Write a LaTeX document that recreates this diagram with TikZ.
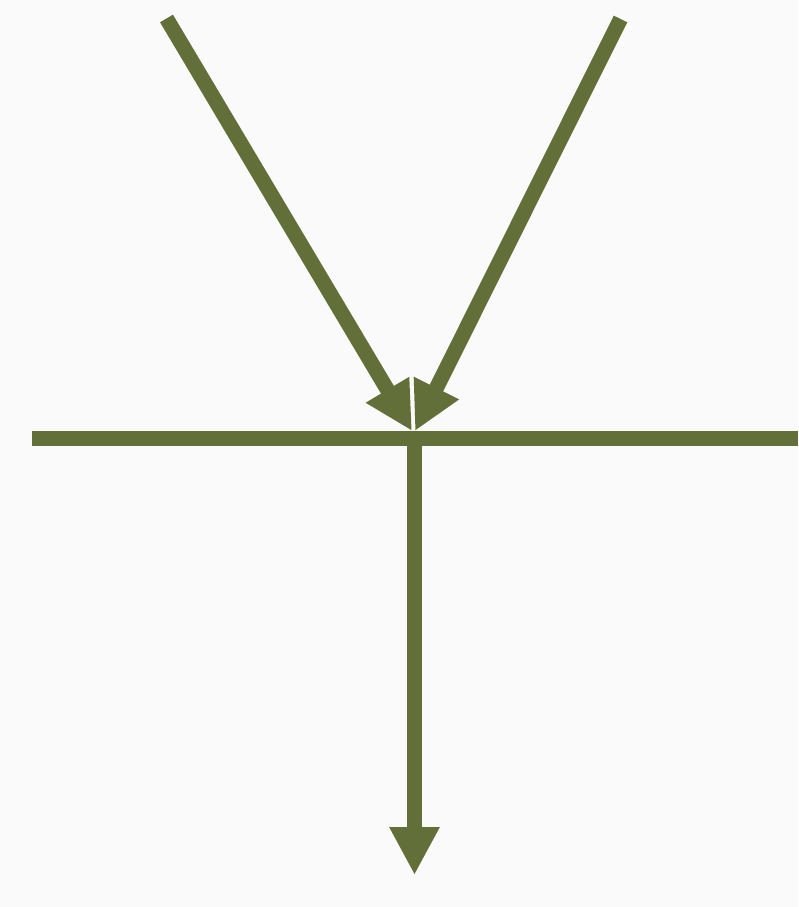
\documentclass[tikz,border=0pt]{standalone}
\usetikzlibrary{arrows.meta}
\definecolor{stemgreen}{RGB}{99,111,56}
\definecolor{backdrop}{RGB}{250,250,250}

\begin{document}
\begin{tikzpicture}[x=1pt,y=-1pt,
  stroke/.style={draw=stemgreen,line width=15pt},
  head/.style={-{Triangle[length=48pt,width=47pt]}}]
 \fill[backdrop] (0,0) rectangle (798,907);
 \useasboundingbox (0,0) rectangle (798,907);
 % end points
 \coordinate (leftTop) at (166.5,18.5);
 \coordinate (rightTop) at (620.5,19);
 \coordinate (leftTip) at (412,431);
 \coordinate (rightTip) at (415,431);
 \coordinate (barWest) at (32,438);
 \coordinate (barEast) at (798,438);
 \coordinate (stemTop) at (414.5,446);
 \coordinate (stemTip) at (414.5,875);
 % bar and stem
 \draw[stroke] (barWest) -- (barEast);
 \draw[stroke,head] (stemTop) -- (stemTip);
 % the two incoming arrows
 \draw[stroke,head] (leftTop) -- (leftTip);
 \draw[stroke,head] (rightTop) -- (rightTip);
\end{tikzpicture}
\end{document}
